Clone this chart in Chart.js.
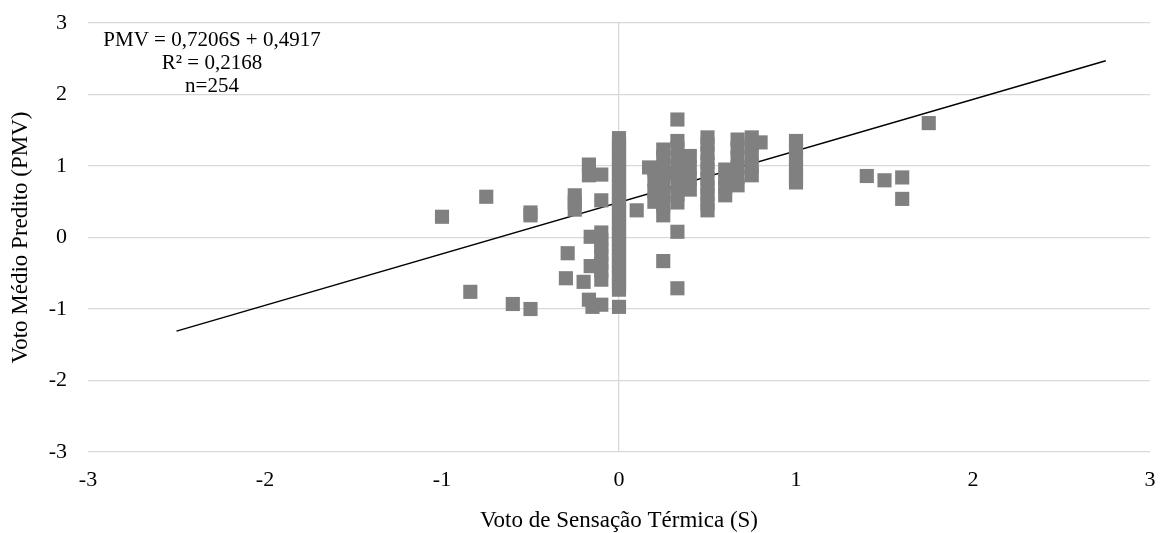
<!DOCTYPE html>
<html>
<head>
<meta charset="utf-8">
<script src="https://cdn.jsdelivr.net/npm/chart.js@4.4.0/dist/chart.umd.min.js"></script>
<style>
    html, body { margin: 0; padding: 0; background: #fff; }
    #wrap { width: 1160px; height: 533px; }
</style>
</head>
<body>
<div id="wrap"><canvas id="grafico"></canvas></div>
<script>
// Voto de sensação térmica (S) de cada ponto
const sensacao = [
    -1, -0.75, -0.5, -0.5, -0.84, -0.6, -0.5,
    -0.25, -0.25, -0.25, -0.29, -0.3, -0.2,
    -0.17, -0.17, -0.1, -0.1,
    -0.1, -0.1, -0.1, -0.1, -0.1, -0.1, -0.1, -0.16, -0.16,
    -0.17, -0.15, -0.1,
    0, 0, 0, 0, 0, 0, 0, 0, 0, 0, 0, 0, 0, 0, 0, 0, 0, 0, 0,
    0, 0, 0, 0, 0, 0, 0, 0, 0, 0, 0, 0, 0, 0, 0, 0, 0, 0,
    0.1, 0.17, 0.2, 0.2, 0.2, 0.2,
    0.25, 0.25, 0.25, 0.25, 0.25, 0.25, 0.25, 0.25, 0.3,
    0.33, 0.33, 0.33, 0.33, 0.33, 0.33, 0.33, 0.33, 0.33, 0.33, 0.33,
    0.25,
    0.4, 0.4, 0.4, 0.4,
    0.5, 0.5, 0.5, 0.5, 0.5, 0.5, 0.5, 0.5, 0.5, 0.5,
    0.6, 0.6, 0.6, 0.6,
    0.67, 0.67, 0.67, 0.67, 0.67, 0.67,
    0.75, 0.75, 0.75, 0.75, 0.75, 0.8,
    1, 1, 1, 1, 1, 1,
    1.4, 1.5, 1.6, 1.6, 1.75
];
// Voto médio predito (PMV) de cada ponto
const pmv = [
    0.29, 0.57, 0.35, 0.31, -0.76, -0.93, -1.0,
    0.59, 0.49, 0.39, -0.22, -0.57, -0.62,
    1.02, 0.87, 0.88, 0.52,
    0.07, -0.04, -0.14, -0.25, -0.36, -0.47, -0.59, 0.01, -0.4,
    -0.87, -0.97, -0.94,
    1.39, 1.32, 1.25, 1.21, 1.13, 1.07, 1.0, 0.95, 0.88, 0.82, 0.77, 0.71, 0.65, 0.6, 0.52, 0.47, 0.41, 0.35, 0.3,
    0.22, 0.17, 0.11, 0.05, -0.02, -0.08, -0.13, -0.2, -0.26, -0.31, -0.38, -0.44, -0.5, -0.55, -0.62, -0.68, -0.73, -0.97,
    0.38, 0.98, 0.95, 0.8, 0.65, 0.5,
    1.23, 1.12, 0.98, 0.86, 0.74, 0.6, 0.45, 0.31, 0.9,
    1.65, 1.35, 1.25, 1.12, 1.0, 0.9, 0.72, 0.6, 0.49, 0.08, -0.71,
    -0.33,
    1.14, 0.98, 0.82, 0.67,
    1.4, 1.3, 1.18, 1.05, 0.95, 0.82, 0.7, 0.6, 0.48, 0.38,
    0.95, 0.82, 0.7, 0.59,
    1.37, 1.25, 1.12, 0.98, 0.85, 0.73,
    1.4, 1.3, 1.15, 1.0, 0.87, 1.33,
    1.35, 1.22, 1.1, 0.98, 0.87, 0.77,
    0.86, 0.8, 0.84, 0.54, 1.6
];

// Linha de tendência: PMV = 0,7206S + 0,4917
const inclinacao = 0.7206;
const intercepto = 0.4917;
const tendenciaX = [-2.5, 2.75];

const rotuloEquacao = ["PMV = 0,7206S + 0,4917", "R² = 0,2168", "n=254"];
const ticksEixo = [-3, -2, -1, 0, 1, 2, 3];

const pontos = sensacao.map((s, i) => ({ x: s, y: pmv[i] }));
const tendencia = tendenciaX.map(x => ({ x: x, y: inclinacao * x + intercepto }));

const fonte = "'Liberation Serif', 'Times New Roman', serif";

// Texto da equação no canto superior esquerdo
const equacaoPlugin = {
    id: "equacao",
    afterDatasetsDraw(chart) {
        const ctx = chart.ctx;
        const area = chart.chartArea;
        ctx.save();
        ctx.fillStyle = "#000";
        ctx.font = "21px " + fonte;
        ctx.textAlign = "center";
        ctx.textBaseline = "middle";
        rotuloEquacao.forEach((linha, i) => {
            ctx.fillText(linha, area.left + 124, area.top + 17 + i * 23);
        });
        ctx.restore();
    }
};

new Chart(document.getElementById("grafico"), {
    type: "scatter",
    data: {
        datasets: [
            {
                label: "PMV",
                data: pontos,
                pointStyle: "rect",
                pointRadius: 10,
                pointHoverRadius: 10,
                backgroundColor: "#808080",
                borderWidth: 0
            },
            {
                label: "Tendência",
                type: "line",
                data: tendencia,
                borderColor: "#000",
                borderWidth: 1.5,
                pointRadius: 0,
                fill: false
            }
        ]
    },
    options: {
        responsive: true,
        maintainAspectRatio: false,
        animation: false,
        layout: { padding: { top: 23, right: 6, left: 0, bottom: 0 } },
        plugins: {
            legend: { display: false },
            tooltip: { enabled: false }
        },
        scales: {
            x: {
                type: "linear",
                min: -3,
                max: 3,
                afterBuildTicks: (scale) => { scale.ticks = ticksEixo.map(v => ({ value: v })); },
                afterFit: (scale) => {
                    scale.height = 81;
                    scale.paddingLeft = 0;
                    scale.paddingRight = 0;
                },
                border: { display: false },
                grid: {
                    drawTicks: false,
                    color: (c) => c.tick && c.tick.value === 0 ? "#d9d9d9" : "rgba(0,0,0,0)",
                    lineWidth: 1.3
                },
                ticks: {
                    color: "#000",
                    padding: 15,
                    font: { family: fonte, size: 22 }
                },
                title: {
                    display: true,
                    text: "Voto de Sensação Térmica (S)",
                    color: "#000",
                    font: { family: fonte, size: 23, lineHeight: 1 },
                    padding: { top: 0, bottom: 1 }
                }
            },
            y: {
                type: "linear",
                min: -3,
                max: 3,
                afterBuildTicks: (scale) => { scale.ticks = ticksEixo.map(v => ({ value: v })); },
                afterFit: (scale) => {
                    scale.width = 88;
                    scale.paddingTop = 0;
                    scale.paddingBottom = 0;
                },
                border: { display: false },
                grid: {
                    drawTicks: false,
                    color: "#d9d9d9",
                    lineWidth: 1.3
                },
                ticks: {
                    color: "#000",
                    padding: 21,
                    font: { family: fonte, size: 22 }
                },
                title: {
                    display: true,
                    text: "Voto Médio Predito (PMV)",
                    color: "#000",
                    font: { family: fonte, size: 23, lineHeight: 1 },
                    padding: { top: 9, bottom: 0 }
                }
            }
        }
    },
    plugins: [equacaoPlugin]
});
</script>
</body>
</html>
